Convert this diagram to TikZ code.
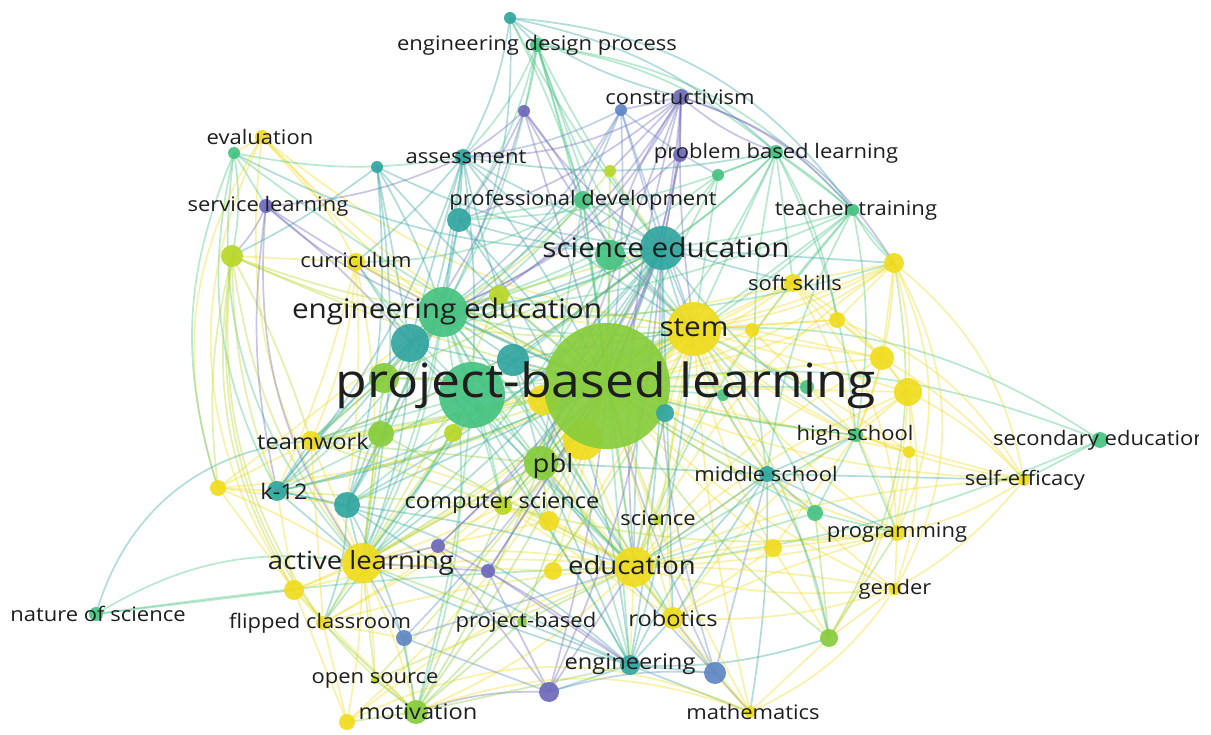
\documentclass[tikz,border=0pt]{standalone}
\usepackage{fontspec}
\setmainfont{Open Sans}[FakeStretch=1.1]
\pgfdeclarelayer{bg}
\pgfdeclarelayer{background}
\pgfsetlayers{bg,background,main}
\definecolor{cP}{RGB}{110,105,185}
\definecolor{cB}{RGB}{95,135,195}
\definecolor{cT}{RGB}{50,165,160}
\definecolor{cG}{RGB}{70,195,130}
\definecolor{cLG}{RGB}{135,205,60}
\definecolor{cYG}{RGB}{185,215,40}
\definecolor{cY}{RGB}{240,220,30}
\definecolor{txt}{RGB}{30,30,30}
\tikzset{
  kw/.style={circle, inner sep=0pt, draw=none, fill opacity=0.92},
  lab/.style={text=txt, inner sep=0pt, anchor=center},
  sm/.style={lab, font=\fontsize{20}{20}\selectfont},
  md/.style={lab, font=\fontsize{21.5}{21.5}\selectfont},
  lgb/.style={lab, font=\fontsize{25}{25}\selectfont},
  lg/.style={lab, font=\fontsize{27}{27}\selectfont},
  huge/.style={lab, font=\fontsize{47}{47}\selectfont},
  edge/.style={line width=1.7pt, draw opacity=0.38},
}
\newcommand{\kwd}[5]{\node[kw, fill=#5, minimum size=#4*2pt] (#1) at (#2,#3) {};}
\begin{document}
\begin{tikzpicture}[x=1pt,y=-1pt]
\begin{pgfonlayer}{bg}
\fill[white] (0,0) rectangle (1211,735);
\end{pgfonlayer}
\useasboundingbox (0,0) rectangle (1211,735);
\clip (0,0) rectangle (1198,735);
% ---------- keyword circles ----------
\kwd{top}{510}{18}{6}{cT}
\kwd{edp}{537}{45}{7}{cG}
\kwd{cons}{681}{97}{8}{cP}
\kwd{p1}{524}{111}{6}{cP}
\kwd{p2}{621}{110}{6}{cB}
\kwd{evalY}{262}{137}{7}{cY}
\kwd{eval}{234}{153}{6}{cG}
\kwd{assess}{463}{157}{8}{cT}
\kwd{t1}{377}{167}{6}{cT}
\kwd{yg1}{610}{171}{6}{cYG}
\kwd{pbltwo}{680}{155}{7}{cP}
\kwd{prob}{776}{152}{7}{cG}
\kwd{g1}{718}{175}{6}{cG}
\kwd{serv}{266}{206}{7}{cP}
\kwd{prof}{583}{200}{9}{cG}
\kwd{tt}{853}{210}{6}{cG}
\kwd{t2}{459}{220}{12}{cT}
\kwd{g2}{610}{255}{15}{cG}
\kwd{sci}{662}{248}{22}{cT}
\kwd{curr}{356}{262}{9}{cY}
\kwd{yg2}{232}{256}{11}{cYG}
\kwd{y1}{894}{263}{10}{cY}
\kwd{soft}{793}{283}{9}{cY}
\kwd{yg3}{499}{295}{10}{cYG}
\kwd{engedu}{443}{312}{25}{cG}
\kwd{t3}{410}{343}{19}{cT}
\kwd{stem}{694}{329}{27}{cY}
\kwd{y2}{752}{330}{7}{cY}
\kwd{y3}{837}{320}{8}{cY}
\kwd{t4}{513}{360}{16}{cT}
\kwd{y4}{882}{358}{12}{cY}
\kwd{y5}{908}{392}{14}{cY}
\kwd{g4}{384}{378}{15}{cLG}
\kwd{g3}{472}{395}{33}{cG}
\kwd{ya}{543}{400}{15}{cY}
\kwd{yb}{583}{440}{20}{cY}
\kwd{main}{607}{386}{63}{cLG}
\kwd{yg4}{453}{433}{9}{cYG}
\kwd{t6}{665}{413}{9}{cT}
\kwd{gsa}{807}{387}{7}{cG}
\kwd{gsb}{723}{395}{6}{cG}
\kwd{team}{311}{441}{10}{cY}
\kwd{g5}{381}{434}{13}{cLG}
\kwd{high}{856}{435}{7}{cG}
\kwd{y6}{909}{452}{6}{cY}
\kwd{sec}{1100}{440}{8}{cG}
\kwd{pblk}{541}{463}{17}{cLG}
\kwd{middle}{767}{474}{8}{cT}
\kwd{self}{1024}{480}{6}{cY}
\kwd{k12}{277}{491}{10}{cT}
\kwd{y7}{218}{488}{8}{cY}
\kwd{t5}{347}{505}{13}{cT}
\kwd{cs}{503}{506}{9}{cYG}
\kwd{y8}{549}{521}{10}{cY}
\kwd{scin}{658}{520}{5}{cYG}
\kwd{g6}{815}{513}{8}{cG}
\kwd{prog}{897}{533}{8}{cY}
\kwd{p3}{438}{546}{7}{cP}
\kwd{active}{362}{563}{20}{cY}
\kwd{p4}{488}{571}{7}{cP}
\kwd{edu}{634}{567}{20}{cY}
\kwd{y9}{553}{571}{9}{cY}
\kwd{y10}{773}{548}{9}{cY}
\kwd{gender}{895}{589}{6}{cY}
\kwd{y11}{294}{590}{10}{cY}
\kwd{nos}{96}{614}{7}{cG}
\kwd{flip}{323}{623}{7}{cY}
\kwd{projb}{522}{622}{5}{cLG}
\kwd{robot}{673}{618}{11}{cY}
\kwd{b1}{404}{638}{8}{cB}
\kwd{g7}{829}{638}{9}{cLG}
\kwd{eng}{630}{665}{10}{cT}
\kwd{b2}{715}{673}{11}{cB}
\kwd{open}{375}{680}{4}{cYG}
\kwd{p5}{549}{692}{10}{cP}
\kwd{motiv}{416}{712}{12}{cLG}
\kwd{math}{750}{712}{6}{cY}
\kwd{y12}{347}{722}{8}{cY}
% ---------- connectors ----------
\begin{pgfonlayer}{background}
\foreach \a/\b/\c/\d in {
top/edp/cT/0, top/assess/cT/10, top/sci/cG/-5, top/prof/cG/5, top/cons/cT/-10,
edp/p1/cG/5, edp/assess/cG/10, edp/sci/cG/-5, edp/prof/cG/0, edp/main/cG/5, edp/prob/cG/15, edp/engedu/cG/10, edp/tt/cG/20, edp/g2/cG/0,
cons/p2/cP/0, cons/pbltwo/cP/0, cons/sci/cP/5, cons/assess/cP/15, cons/main/cP/10, cons/g2/cP/-10, cons/prob/cP/-10, cons/y1/cP/20, cons/engedu/cP/20, cons/edu/cP/-10, cons/t2/cP/10,
p1/assess/cP/5, p1/sci/cP/-10, p1/main/cP/0, p1/stem/cP/-10, p1/prof/cP/5,
p2/assess/cB/10, p2/main/cB/5, p2/sci/cB/0, p2/g1/cB/-5, p2/t3/cB/15,
pbltwo/sci/cP/0, pbltwo/main/cP/5, pbltwo/engedu/cP/10,
evalY/eval/cY/0, evalY/curr/cY/10, evalY/main/cY/-10, evalY/stem/cY/-15, evalY/active/cY/-20, evalY/engedu/cY/-5,
eval/serv/cG/0, eval/assess/cG/-10, eval/main/cG/-5, eval/yg2/cG/10, eval/sci/cT/-15, eval/active/cG/-25, eval/k12/cG/-20,
serv/assess/cP/-10, serv/engedu/cP/-10, serv/main/cP/-5, serv/t3/cP/5, serv/active/cP/-20, serv/yg2/cP/10,
assess/sci/cT/-5, assess/main/cT/5, assess/engedu/cT/0, assess/t2/cT/0, assess/g3/cT/5, assess/t5/cT/10, assess/edu/cT/-10, assess/prob/cT/-10,
t1/engedu/cT/5, t1/main/cT/-5, t1/t5/cT/10, t1/sci/cT/-10,
yg1/main/cYG/0, yg1/sci/cYG/0, yg1/engedu/cYG/10,
prob/sci/cG/5, prob/main/cG/10, prob/stem/cG/0, prob/engedu/cG/20, prob/tt/cG/0, prob/g1/cG/0, prob/y1/cG/10, prob/middle/cG/-10,
g1/main/cG/0, g1/sci/cG/0,
prof/sci/cG/0, prof/main/cG/0, prof/engedu/cG/5, prof/stem/cG/-5, prof/t3/cG/10, prof/curr/cG/15,
tt/sci/cG/5, tt/main/cG/5, tt/stem/cG/0, tt/y1/cG/-10, tt/high/cG/10, tt/edu/cG/-10,
t2/main/cT/0, t2/sci/cT/-10, t2/engedu/cT/0, t2/t5/cT/10, t2/eng/cT/15,
sci/main/cT/0, sci/engedu/cT/10, sci/stem/cT/0, sci/middle/cT/-10, sci/edu/cT/-5, sci/k12/cT/20, sci/high/cT/-10, sci/eng/cT/5, sci/t5/cT/10,
g2/main/cG/0, g2/engedu/cG/5,
curr/main/cY/0, curr/stem/cY/-10, curr/active/cY/10, curr/engedu/cY/0, curr/team/cY/10,
yg2/main/cYG/-5, yg2/team/cYG/5, yg2/active/cYG/-15, yg2/engedu/cYG/-5, yg2/k12/cYG/-10, yg2/stem/cYG/-15, yg2/motiv/cYG/-30,
y1/stem/cY/5, y1/main/cY/10, y1/soft/cY/0, y1/high/cY/10, y1/self/cY/20, y1/prog/cY/25, y1/gender/cY/30, y1/edu/cY/-15,
soft/stem/cY/0, soft/main/cY/5, soft/y3/cY/0, soft/y4/cY/10, soft/team/cY/10, soft/engedu/cY/10,
engedu/main/cG/0, engedu/stem/cG/-10, engedu/active/cG/10, engedu/team/cG/5, engedu/t3/cG/0, engedu/pblk/cG/-5, engedu/eng/cG/15, engedu/cs/cG/5, engedu/k12/cG/10, engedu/edu/cG/-10, engedu/motiv/cG/15,
stem/main/cY/0, stem/edu/cY/-5, stem/high/cY/-10, stem/middle/cY/-10, stem/robot/cY/-10, stem/y4/cY/0, stem/y5/cY/0, stem/self/cY/-15, stem/gender/cY/-15, stem/math/cY/-5, stem/prog/cY/-10, stem/sec/cG/18,
y4/main/cY/0, y5/main/cY/0, y5/high/cY/0, y5/self/cY/10, y2/main/cY/0, y3/main/cY/5, y3/stem/cY/0,
main/team/cLG/0, main/k12/cLG/5, main/active/cLG/5, main/edu/cLG/0, main/pblk/cLG/0, main/cs/cLG/0, main/middle/cLG/-5, main/high/cLG/-5, main/sec/cG/15, main/self/cY/-10, main/prog/cY/-10, main/gender/cY/-10, main/robot/cY/0, main/eng/cG/0, main/math/cY/-5, main/motiv/cLG/5, main/flip/cY/10, main/y7/cY/10, main/y11/cY/10, main/open/cYG/5, main/y12/cY/10, main/p5/cP/5, main/b1/cB/5, main/b2/cB/-5, main/g7/cLG/-10, main/g6/cG/-5, main/y10/cY/-5, main/y9/cY/0, main/y8/cY/0, main/p3/cP/0, main/p4/cP/0, main/projb/cLG/0, main/scin/cYG/0,
sec/self/cG/0, sec/edu/cG/8,
nos/team/cT/35, nos/active/cG/20, nos/y11/cG/0, nos/edu/cG/3,
k12/t5/cT/0, k12/active/cT/0, k12/team/cT/0, k12/engedu/cT/5, k12/eng/cT/15, k12/stem/cT/-10,
t5/active/cT/0, t5/engedu/cT/0, t5/edu/cT/5, t5/main/cT/0, t5/motiv/cT/10, t5/flip/cT/10,
active/edu/cY/10, active/flip/cY/0, active/motiv/cY/5, active/team/cY/0, active/y11/cY/0, active/cs/cY/-5, active/y12/cY/5, active/open/cY/5,
edu/robot/cY/0, edu/eng/cY/0, edu/math/cY/-5, edu/gender/cY/-10, edu/prog/cY/-5, edu/cs/cY/0, edu/pblk/cY/0, edu/middle/cY/0, edu/y10/cY/0, edu/motiv/cY/10,
eng/b2/cT/0, eng/p5/cT/0, eng/robot/cT/0, eng/math/cT/0, eng/middle/cT/10, eng/g7/cT/-10, eng/projb/cT/0, eng/pblk/cT/0,
b2/middle/cB/0, b2/p5/cB/-10, b2/math/cB/0, b2/robot/cB/0, b2/sci/cB/10, b2/pblk/cB/5,
p5/p3/cP/0, p5/p4/cP/0, p5/motiv/cP/-10,
middle/high/cT/0, middle/prog/cT/0, middle/g6/cT/0, middle/self/cT/0, middle/math/cT/5,
g7/g6/cLG/0, g7/prog/cLG/0, g7/y1/cLG/-20, g7/stem/cLG/-10,
motiv/y12/cLG/0, motiv/flip/cLG/0, motiv/open/cLG/0, motiv/b1/cLG/0, motiv/pblk/cLG/-5, motiv/cs/cLG/0,
y7/team/cY/0, y7/k12/cY/0, y7/active/cY/5, y7/y11/cY/0,
g3/main/cG/0, g3/t5/cG/5, g3/active/cG/5, g3/edu/cG/-5, g3/stem/cG/-5, g4/main/cLG/0, g5/main/cLG/0, t4/main/cT/0, t3/main/cT/0, t3/active/cT/10, t4/edu/cT/-5,
stem/y1/cY/-10, stem/y3/cY/0, y1/y4/cY/0, y1/y5/cY/10, y1/y3/cY/0, y3/y4/cY/0, y4/y5/cY/0, y4/high/cY/5, y4/self/cY/10, y4/edu/cY/-10, y5/prog/cY/10, y5/gender/cY/15, y5/edu/cY/-10, y5/robot/cY/-10, y5/g7/cY/15, y6/main/cY/0, y6/stem/cY/-5, y6/high/cY/0, y6/prog/cY/-5, self/high/cY/0, self/prog/cY/10, self/edu/cY/-10, self/gender/cY/10, prog/gender/cY/0, prog/edu/cY/-5, prog/robot/cY/-5, prog/high/cY/-5, gender/robot/cY/10, gender/math/cY/15, gender/g7/cY/0, gender/edu/cY/-5, y10/stem/cY/10, y10/robot/cY/0, y10/high/cY/0, y10/prog/cY/0, y10/g7/cY/0, robot/math/cY/0, robot/cs/cY/0, math/g7/cY/0, math/motiv/cY/-20, math/y12/cY/-25, soft/high/cY/10, soft/prog/cY/20, soft/edu/cY/-10, y2/stem/cY/0, y2/high/cY/0, y2/y4/cY/0, y3/y5/cY/10, y3/self/cY/20, gsa/main/cG/0, gsa/stem/cG/0, gsb/main/cG/0, t6/main/cT/0, t6/edu/cT/0, t6/middle/cT/0,
middle/edu/cT/0, middle/robot/cT/0, middle/g7/cT/10, middle/pblk/cT/0, g6/prog/cG/0, g6/edu/cG/0, g6/stem/cG/-10, high/edu/cG/0, high/prog/cG/0, high/g6/cG/0,
g3/team/cG/0, g3/k12/cG/0, g3/engedu/cG/0, g3/pblk/cG/0, g3/cs/cG/0, g3/sci/cG/0, g3/curr/cG/5, g3/motiv/cG/5, g3/eng/cG/0, g3/flip/cG/5, t3/team/cT/0, t3/k12/cT/5, t3/t5/cT/0, t3/sci/cT/0, t3/curr/cT/0, t3/edu/cT/0, t3/eng/cT/5, t4/sci/cT/0, t4/engedu/cT/0, t4/pblk/cT/0, t4/active/cT/0, t4/stem/cT/0, g4/active/cLG/0, g4/engedu/cLG/0, g4/team/cLG/0, g4/sci/cLG/0, g4/stem/cLG/-10, g5/active/cLG/0, g5/team/cLG/0, g5/edu/cLG/0, g5/stem/cLG/-5, g5/engedu/cLG/0, yg4/main/cYG/0, yg4/active/cYG/0, yg4/stem/cYG/0, ya/main/cY/0, ya/stem/cY/0, ya/edu/cY/0, yb/main/cY/0, yb/edu/cY/0, yb/stem/cY/0, yb/active/cY/0, pblk/active/cLG/0, pblk/cs/cLG/0, pblk/team/cLG/0, pblk/stem/cLG/0, pblk/sci/cLG/0, pblk/robot/cLG/0, pblk/y8/cLG/0, cs/y8/cY/0, cs/stem/cYG/0, cs/team/cYG/0, cs/prog/cYG/-10, cs/k12/cYG/0, y8/edu/cY/0, y8/active/cY/0, y9/edu/cY/0, y9/active/cY/0, y9/stem/cY/0, scin/edu/cYG/0, scin/stem/cYG/0, team/stem/cY/-10, team/edu/cY/10, team/flip/cY/0, team/sci/cY/-10, y11/flip/cY/0, y11/motiv/cY/0, y11/edu/cY/10, y11/k12/cY/0, y11/y12/cY/0, flip/edu/cY/5, flip/b1/cY/0, flip/y12/cY/0, flip/stem/cY/-10, b1/edu/cB/0, b1/p5/cB/0, b1/active/cB/0, p3/active/cP/0, p3/eng/cP/5, p3/sci/cP/-10, p4/eng/cP/0, p4/active/cP/0, p4/sci/cP/-5, projb/edu/cLG/0, projb/active/cLG/0, projb/motiv/cLG/0, open/active/cYG/0, open/edu/cYG/0, y12/edu/cY/10, motiv/eng/cLG/0, motiv/stem/cLG/-10, p5/edu/cP/0, p5/sci/cP/-10, eng/active/cT/5, eng/stem/cT/-5, eng/t5/cT/5,
evalY/y11/cY/-30, evalY/y7/cY/-25, yg2/y7/cYG/-10, yg2/y11/cYG/-20, yg2/flip/cYG/-20, eval/y7/cG/-20, serv/k12/cP/-10, y7/t5/cY/0, y7/engedu/cY/0,
top/prob/cT/15, top/tt/cT/25, top/engedu/cT/15, edp/stem/cG/-10, edp/t2/cG/10, cons/stem/cP/-5, cons/tt/cP/15, cons/pblk/cP/0, cons/t3/cP/15, cons/yg1/cP/0, p1/t3/cP/10, p1/t2/cP/5, p2/prof/cB/0, p2/stem/cB/0, p2/engedu/cB/10, assess/t3/cT/0, assess/curr/cT/5, assess/stem/cT/-5, assess/k12/cT/10, t1/t3/cT/0, t1/active/cT/10, t1/yg2/cT/5, prob/y3/cG/10, prob/soft/cG/0, prob/high/cG/10, prob/t2/cG/10, g1/stem/cG/0, g1/engedu/cG/10, prof/t2/cG/0, prof/edu/cG/0, prof/pblk/cG/0, tt/soft/cG/0, tt/middle/cG/-10, tt/engedu/cG/10, sci/team/cT/10, sci/active/cT/10, sci/pblk/cT/0, sci/cs/cT/0, sci/soft/cT/0, sci/y1/cT/0, sci/robot/cT/0, g2/stem/cG/0, g2/sci/cG/0, g2/pblk/cG/0, g2/active/cG/10, curr/t5/cY/5, curr/k12/cY/5, curr/yg2/cY/0, yg3/main/cYG/0, yg3/sci/cYG/0, yg3/stem/cYG/0, yg3/engedu/cYG/0, yg3/active/cYG/5, engedu/y1/cG/-10, engedu/high/cG/-10, engedu/robot/cG/5, engedu/flip/cG/10}
  { \draw[edge, draw=\c] (\a.center) to[bend left=\d] (\b.center); }
\end{pgfonlayer}
% ---------- labels ----------
\node[sm] (l-edp) at (537,45) {engineering design process};
\node[sm] (l-cons) at (680,97) {constructivism};
\node[sm] (l-eval) at (260,137) {evaluation};
\node[sm] (l-assess) at (466,157) {assessment};
\node[sm] (l-prob) at (776,153) {problem based learning};
\node[sm] (l-serv) at (268,206) {service learning};
\node[sm] (l-prof) at (583,200) {professional development};
\node[sm] (l-tt) at (856,210) {teacher training};
\node[lg] (l-sci) at (666,247) {science education};
\node[sm] (l-curr) at (356,260) {curriculum};
\node[sm] (l-soft) at (795,283) {soft skills};
\node[lg] (l-engedu) at (447,311) {engineering education};
\node[lg] (l-stem) at (694,328) {stem};
\node[huge] (l-main) at (606,385) {project-based learning};
\node[md] (l-team) at (313,441) {teamwork};
\node[sm] (l-high) at (855,435) {high school};
\node[sm] (l-sec) at (1100,440) {secondary education};
\node[lgb] (l-pblk) at (553,466) {pbl};
\node[sm] (l-middle) at (766,474) {middle school};
\node[sm] (l-self) at (1025,480) {self-efficacy};
\node[md] (l-k12) at (284,491) {k-12};
\node[md] (l-cs) at (502,503) {computer science};
\node[sm] (l-scin) at (658,518) {science};
\node[sm] (l-prog) at (897,533) {programming};
\node[lgb] (l-active) at (361,563) {active learning};
\node[lgb] (l-edu) at (632,565) {education};
\node[sm] (l-gender) at (895,589) {gender};
\node[sm] (l-nos) at (98,614) {nature of science};
\node[sm] (l-flip) at (320,623) {flipped classroom};
\node[sm] (l-projb) at (526,622) {project-based};
\node[md] (l-robot) at (673,618) {robotics};
\node[md] (l-eng) at (630,664) {engineering};
\node[sm] (l-open) at (375,680) {open source};
\node[md] (l-motiv) at (418,712) {motivation};
\node[sm] (l-math) at (753,712) {mathematics};
\end{tikzpicture}
\end{document}
